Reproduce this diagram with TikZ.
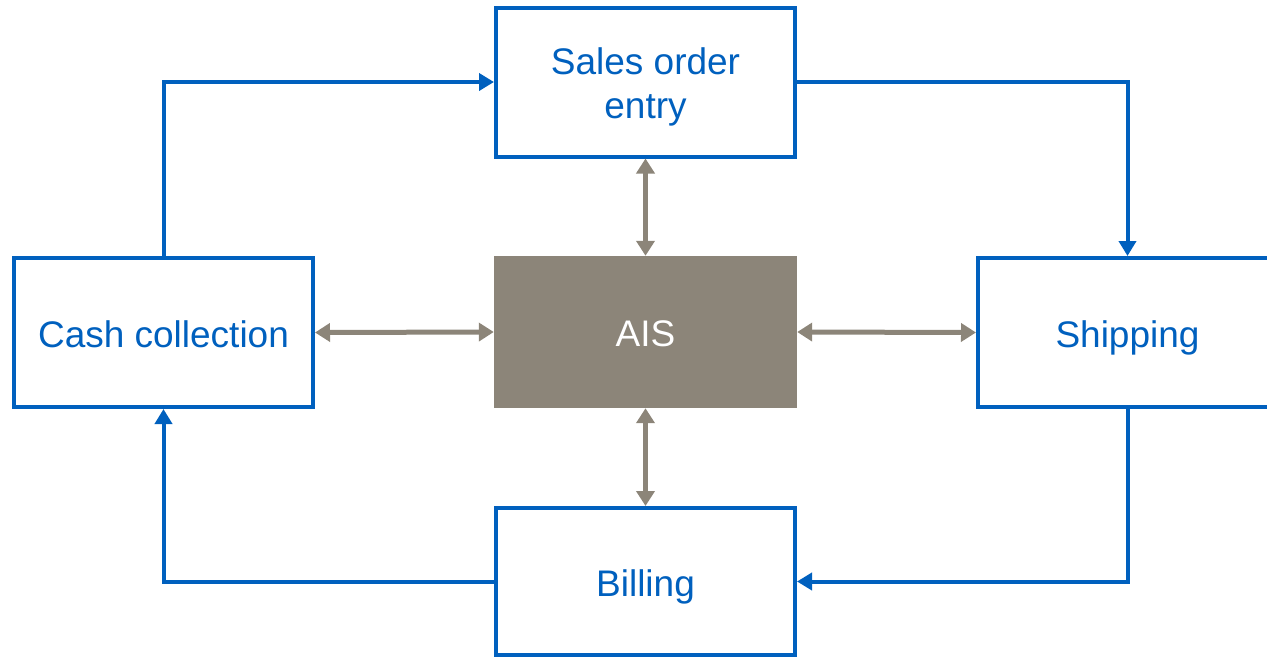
\documentclass[tikz,border=0pt]{standalone}
\usepackage{fontspec}
\setmainfont{Liberation Sans}
\usetikzlibrary{arrows.meta}
\definecolor{boxblue}{RGB}{0,96,190}
\definecolor{aisgray}{RGB}{140,133,121}
\begin{document}
\begin{tikzpicture}[x=1pt,y=-1pt,
  procbox/.style={draw=boxblue,line width=4pt,fill=white,minimum width=299pt,minimum height=149pt,
    inner sep=0pt,align=center,text=boxblue,font=\fontsize{37}{44.5}\selectfont},
  oneline/.style={text height=29pt,text depth=0pt},
  aisbox/.style={fill=aisgray,minimum width=303pt,minimum height=152pt,inner sep=0pt,
    text=white,font=\fontsize{37}{44.5}\selectfont,text height=29pt,text depth=0pt},
  flow/.style={draw=boxblue,line width=4pt,-{Triangle[length=15pt,width=17pt]}},
  link/.style={draw=aisgray,line width=5pt,{Triangle[length=15pt,width=18pt]}-{Triangle[length=15pt,width=18pt]}}]
\useasboundingbox (0,0) rectangle (1267,659);
\node[procbox] (sales) at (645.5,82) {};
\node[text=boxblue,align=center,font=\fontsize{37}{44.5}\selectfont,inner sep=0pt] (salestext) at (645.5,87) {Sales order\\entry};
\node[aisbox] (ais) at (645.5,332) {AIS};
\node[procbox,oneline] (cash) at (163.5,332.5) {Cash collection};
\node[procbox,oneline] (ship) at (1127.5,332.5) {Shipping};
\node[procbox,oneline,minimum height=147pt] (bill) at (645.5,581.5) {Billing};
\draw[flow] (cash.north) |- (sales.west);
\draw[flow] (sales.east) -| (ship.north);
\draw[flow] (ship.south) |- (bill.east);
\draw[flow] (bill.west) -| (cash.south);
\draw[link] (sales.south) -- (ais.north);
\draw[link] (ais.south) -- (bill.north);
\draw[link] (cash.east) -- (ais.west);
\draw[link] (ais.east) -- (ship.west);
\end{tikzpicture}
\end{document}
